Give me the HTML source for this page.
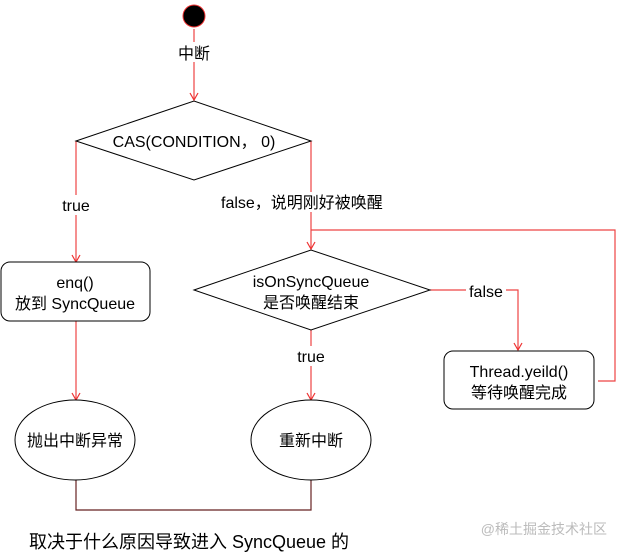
<!DOCTYPE html>
<html><head><meta charset="utf-8"><style>
body{margin:0;background:#fff;}
svg text{font-family:"Liberation Sans","Noto Sans CJK SC",sans-serif;fill:#000;}
</style></head><body>
<svg width="623" height="552" viewBox="0 0 623 552" xmlns="http://www.w3.org/2000/svg">
<defs><marker id="a" markerWidth="10" markerHeight="10" refX="8" refY="5" orient="auto" markerUnits="userSpaceOnUse">
<path d="M1,1 L8,5 L1,9" fill="none" stroke="#e33" stroke-width="1.2"/></marker></defs>
<g stroke="#e44" stroke-width="1.2" fill="none">
<line x1="194" y1="29" x2="194" y2="100" marker-end="url(#a)"/>
<polyline points="76,141 76,262" marker-end="url(#a)"/>
<polyline points="311,141 311,249" marker-end="url(#a)"/>
<polyline points="598,381 615,381 615,230 311,230"/>
<polyline points="430,290 518,290 518,350" marker-end="url(#a)"/>
<line x1="311" y1="330" x2="311" y2="400" marker-end="url(#a)"/>
<line x1="76" y1="321" x2="76" y2="400" marker-end="url(#a)"/>
</g>
<polyline points="76,480 76,510 311,510 311,480" fill="none" stroke="#622" stroke-width="1.2"/>
<circle cx="194" cy="16" r="11" fill="#000" stroke="#e33" stroke-width="1"/>
<rect x="180" y="42" width="28" height="20" fill="#fff"/>
<text x="194" y="59" font-size="16" text-anchor="middle">中断</text>
<polygon points="76,141 194,101 311,141 194,180" fill="#fff" stroke="#000" stroke-width="1"/>
<text x="194" y="147" font-size="16" text-anchor="middle">CAS(CONDITION，  0)</text>
<rect x="58" y="195" width="36" height="20" fill="#fff"/>
<text x="76" y="211" font-size="16" text-anchor="middle">true</text>
<rect x="220" y="192" width="186" height="20" fill="#fff"/>
<text x="221" y="208" font-size="16">false，说明刚好被唤醒</text>
<polygon points="194,290 311,250 430,290 311,330" fill="#fff" stroke="#000" stroke-width="1"/>
<text x="311" y="287" font-size="16" text-anchor="middle">isOnSyncQueue</text>
<text x="311" y="308" font-size="16" text-anchor="middle">是否唤醒结束</text>
<rect x="466" y="282" width="40" height="18" fill="#fff"/>
<text x="486" y="297" font-size="16" text-anchor="middle">false</text>
<rect x="294" y="346" width="34" height="20" fill="#fff"/>
<text x="311" y="362" font-size="16" text-anchor="middle">true</text>
<rect x="1" y="262" width="149" height="59" rx="9" fill="#fff" stroke="#000"/>
<text x="75" y="288" font-size="16" text-anchor="middle">enq()</text>
<text x="75" y="309" font-size="16" text-anchor="middle">放到 SyncQueue</text>
<rect x="444" y="351" width="150" height="58" rx="9" fill="#fff" stroke="#000"/>
<text x="519" y="377" font-size="16" text-anchor="middle">Thread.yeild()</text>
<text x="519" y="398" font-size="16" text-anchor="middle">等待唤醒完成</text>
<ellipse cx="75" cy="440" rx="60" ry="40" fill="#fff" stroke="#000"/>
<text x="75" y="446" font-size="16" text-anchor="middle">抛出中断异常</text>
<ellipse cx="311" cy="440" rx="60" ry="40" fill="#fff" stroke="#000"/>
<text x="311" y="446" font-size="16" text-anchor="middle">重新中断</text>
<text x="29" y="548" font-size="18">取决于什么原因导致进入 SyncQueue 的</text>
<text x="607" y="534" font-size="14" text-anchor="end" style="fill:#bbb">@稀土掘金技术社区</text>
</svg>
</body></html>
